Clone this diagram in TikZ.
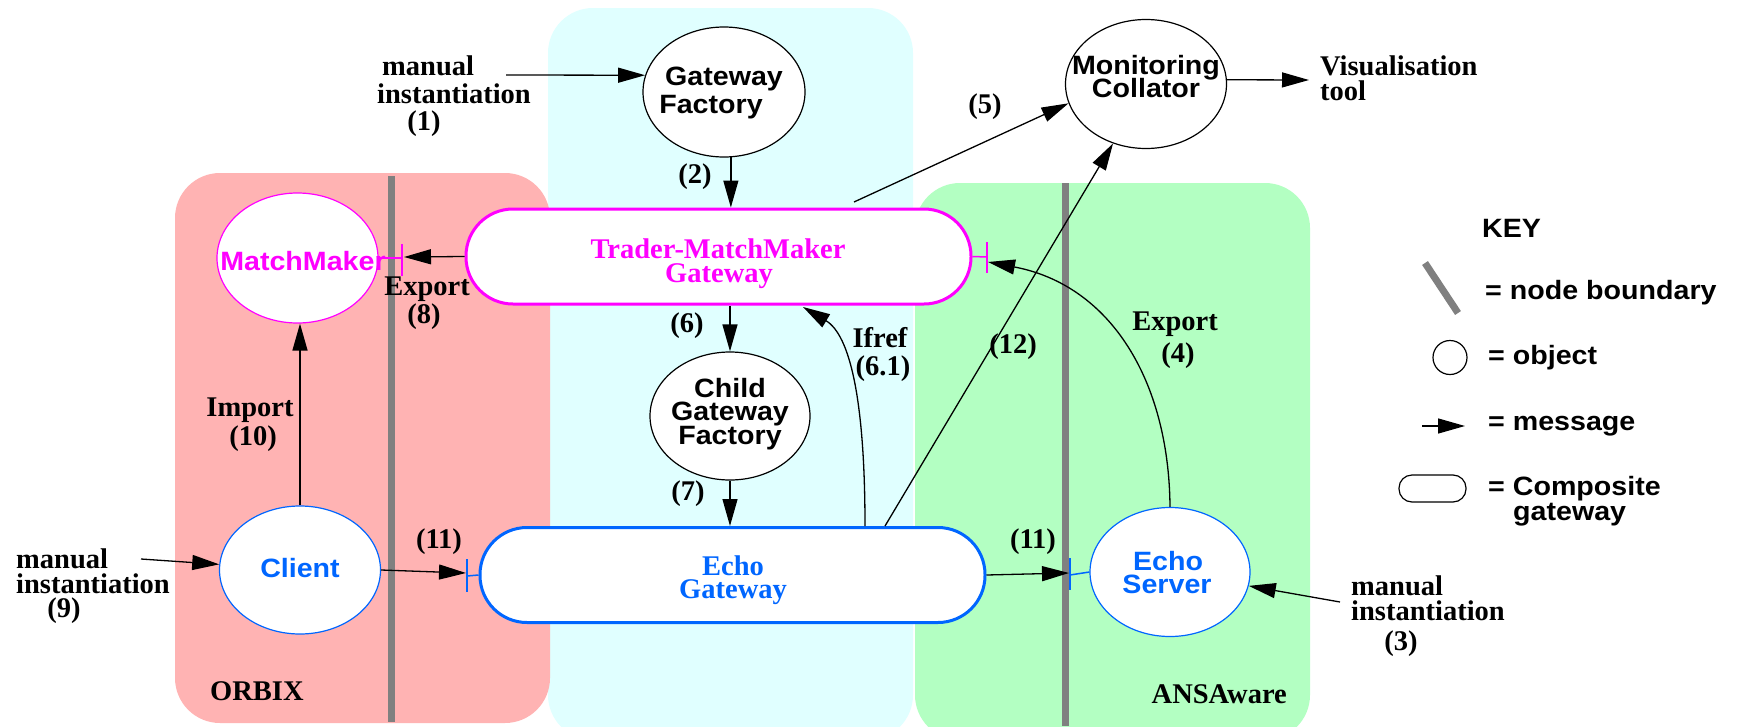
\documentclass[tikz,border=0pt]{standalone}
\usepackage{fontspec}
\setmainfont{Liberation Serif}
\setsansfont{Liberation Sans}[FakeStretch=1.08]
\usetikzlibrary{arrows.meta,shapes.geometric,calc}
\definecolor{pinkbg}{RGB}{255,179,179}
\definecolor{cyanbg}{RGB}{224,255,255}
\definecolor{greenbg}{RGB}{179,255,194}
\definecolor{mag}{RGB}{255,0,255}
\definecolor{blu}{RGB}{0,102,255}
\definecolor{bnd}{RGB}{128,128,128}
\tikzset{
  lbl/.style={font=\fontsize{28.5}{28}\selectfont\bfseries, inner sep=0pt, anchor=base},
  lblw/.style={lbl, anchor=base west},
  sf/.style={font=\sffamily\fontsize{26.5}{26}\selectfont\bfseries, inner sep=0pt, anchor=base},
  obj/.style={ellipse, draw, line width=1.2pt, fill=white, inner sep=0pt},
  gw/.style={rectangle, rounded corners=47pt, fill=white, line width=3pt, inner sep=0pt,
             minimum width=505pt, minimum height=95pt},
  msg/.style={-{Triangle[length=27pt,width=15pt]}, line width=1.3pt},
  boundary/.style={bnd, line width=7pt},
  region/.style={rounded corners=45pt},
  tick/.style={line width=1.5pt}
}
\begin{document}
\begin{tikzpicture}[x=1pt,y=-1pt]
\clip (0,0) rectangle (1738,726);
\fill[white] (0,0) rectangle (1738,726);
% regions
\fill[cyanbg, region] (548,8) rectangle (913,740);
\fill[pinkbg, region] (175,173) rectangle (550,723);
\fill[greenbg, region] (915,183) rectangle (1310,740);
\draw[boundary] (391,176) -- (391,722);
\draw[boundary] (1065,183) -- (1065,726);

% nodes
\node[obj, minimum width=162pt, minimum height=130pt] (GF) at (724,92) {};
\node[obj, minimum width=161pt, minimum height=129pt] (MC) at (1146,84) {};
\node[obj, draw=mag, minimum width=161pt, minimum height=130pt] (MM) at (297.5,258) {};
\node[obj, minimum width=160pt, minimum height=128pt] (CGF) at (730,416) {};
\node[obj, draw=blu, minimum width=161pt, minimum height=128pt] (CL) at (300,570) {};
\node[obj, draw=blu, minimum width=160pt, minimum height=129pt] (ES) at (1170,572) {};
\node[gw, draw=mag] (TMG) at (718.5,256.5) {};
\node[gw, draw=blu] (EG) at (732.5,575) {};

% node texts
\node[sf] (gf1) at (724,85) {Gateway};
\node[sf] (gf2) at (711,113) {Factory};
\node[sf] (mc1) at (1146,74) {Monitoring};
\node[sf] (mc2) at (1146,97) {Collator};
\node[sf, text=mag] (mm1) at (303,270) {MatchMaker};
\node[sf] (cg1) at (730,397) {Child};
\node[sf] (cg2) at (730,420) {Gateway};
\node[sf] (cg3) at (730,444) {Factory};
\node[sf, text=blu] (cl1) at (300,577) {Client};
\node[sf, text=blu] (es1) at (1168,570) {Echo};
\node[sf, text=blu] (es2) at (1167,593) {Server};
\node[lbl, text=mag] (tm1) at (718,258) {Trader-MatchMaker};
\node[lbl, text=mag] (tm2) at (719,282) {Gateway};
\node[lbl, text=blu] (eg1) at (733,575) {Echo};
\node[lbl, text=blu] (eg2) at (733,598) {Gateway};

% port ticks
\coordinate (pMM) at (402,258);
\coordinate (pTR) at (987,257);
\coordinate (pEGl) at (467,576);
\coordinate (pES) at (1070,575);
\draw[mag, tick] (402,244) -- (402,276);
\draw[mag, tick] (MM.east) -- (pMM);
\draw[mag, tick] (987,242) -- (987,273);
\draw[mag, tick] (TMG.east) -- (pTR);
\draw[blu, tick] (467,559) -- (467,592);
\draw[blu, tick] (pEGl) -- (EG.west);
\draw[blu, tick] (1070,558) -- (1070,590);
\draw[blu, tick] (pES) -- (ES.west);

% free ends
\coordinate (m1) at (506,75);
\coordinate (m9) at (141,559);
\coordinate (m3) at (1340,602);
\coordinate (vis) at (1309,80);
\coordinate (c5) at (854,202);

% messages
\draw[msg] (m1) -- (GF.168);
\draw[msg] (GF.-84.5) -- (GF.-84.5 |- TMG.north);
\draw[msg] (c5) -- (MC.194.5);
\draw[msg] (MC.3) -- (vis);
\draw[msg] (TMG.west) -- (404,257);
\draw[msg] (TMG.south -| CGF.north) -- (CGF.north);
\draw[msg] (CGF.south) -- (CGF.south |- EG.north);
\draw[msg] (CL.north) -- (CL.north |- MM.south);
\draw[msg] (m9) -- (CL.176);
\draw[msg] (CL.east) -- (466,573);
\draw[msg] (EG.east) -- (1069,573);
\draw[msg] (m3) -- (ES.-10);
\draw[msg] ($(EG.north)+(132.5,0)$) .. controls (865,400) and (850,335) .. (803,307);
\draw[msg] ($(EG.north)+(152.5,0)$) -- (MC.241.6);
\draw[msg] (ES.north) .. controls (1169,380) and (1110,285) .. (988,262);

% labels
\node[lblw] (l1a) at (382,75) {manual};
\node[lblw] (l1b) at (377,103) {instantiation};
\node[lbl] (l1c) at (424,130) {(1)};
\node[lbl] (l2) at (695,183) {(2)};
\node[lbl] (l5) at (985,113) {(5)};
\node[lbl] (l8a) at (427,295) {Export};
\node[lbl] (l8b) at (424,323) {(8)};
\node[lbl] (l6) at (687,332) {(6)};
\node[lbl] (l10a) at (250,416) {Import};
\node[lbl] (l10b) at (253,445) {(10)};
\node[lbl] (l61a) at (880,347) {Ifref};
\node[lbl] (l61b) at (883,375) {(6.1)};
\node[lbl] (l12) at (1013,353) {(12)};
\node[lbl] (l4a) at (1175,330) {Export};
\node[lbl] (l4b) at (1178,362) {(4)};
\node[lbl] (l7) at (688,500) {(7)};
\node[lbl] (l11a) at (439,548) {(11)};
\node[lbl] (l11b) at (1033,548) {(11)};
\node[lblw] (l9a) at (16,568) {manual};
\node[lblw] (l9b) at (16,593) {instantiation};
\node[lbl] (l9c) at (64,617) {(9)};
\node[lblw] (l3a) at (1351,595) {manual};
\node[lblw] (l3b) at (1351,620) {instantiation};
\node[lbl] (l3c) at (1401,650) {(3)};
\node[lblw] (orb) at (210,700) {ORBIX};
\node[lbl, anchor=base east] (ans) at (1287,703) {ANSAware};
\node[lblw] (vt1) at (1320,75) {Visualisation};
\node[lblw] (vt2) at (1320,100) {tool};

% key
\node[sf, anchor=base west] (key) at (1482,237) {KEY};
\draw[boundary] (1425,263) -- (1458,313);
\node[sf, anchor=base west] (k1) at (1485,299) {= node boundary};
\node[circle, draw, line width=1.2pt, minimum size=34pt, inner sep=0pt] (kobj) at (1450,357.5) {};
\node[sf, anchor=base west] (k2) at (1488,364) {= object};
\coordinate (ka) at (1422,426);
\coordinate (kb) at (1465,426);
\draw[msg] (ka) -- (kb);
\node[sf, anchor=base west] (k3) at (1488,430) {= message};
\node[rectangle, rounded corners=13pt, draw, line width=1.2pt, minimum width=67pt, minimum height=27pt, inner sep=0pt] (kgw) at (1432.5,488.5) {};
\node[sf, anchor=base west] (k4) at (1488,495) {= Composite};
\node[sf, anchor=base west] (k5) at (1513,520) {gateway};
\end{tikzpicture}
\end{document}
